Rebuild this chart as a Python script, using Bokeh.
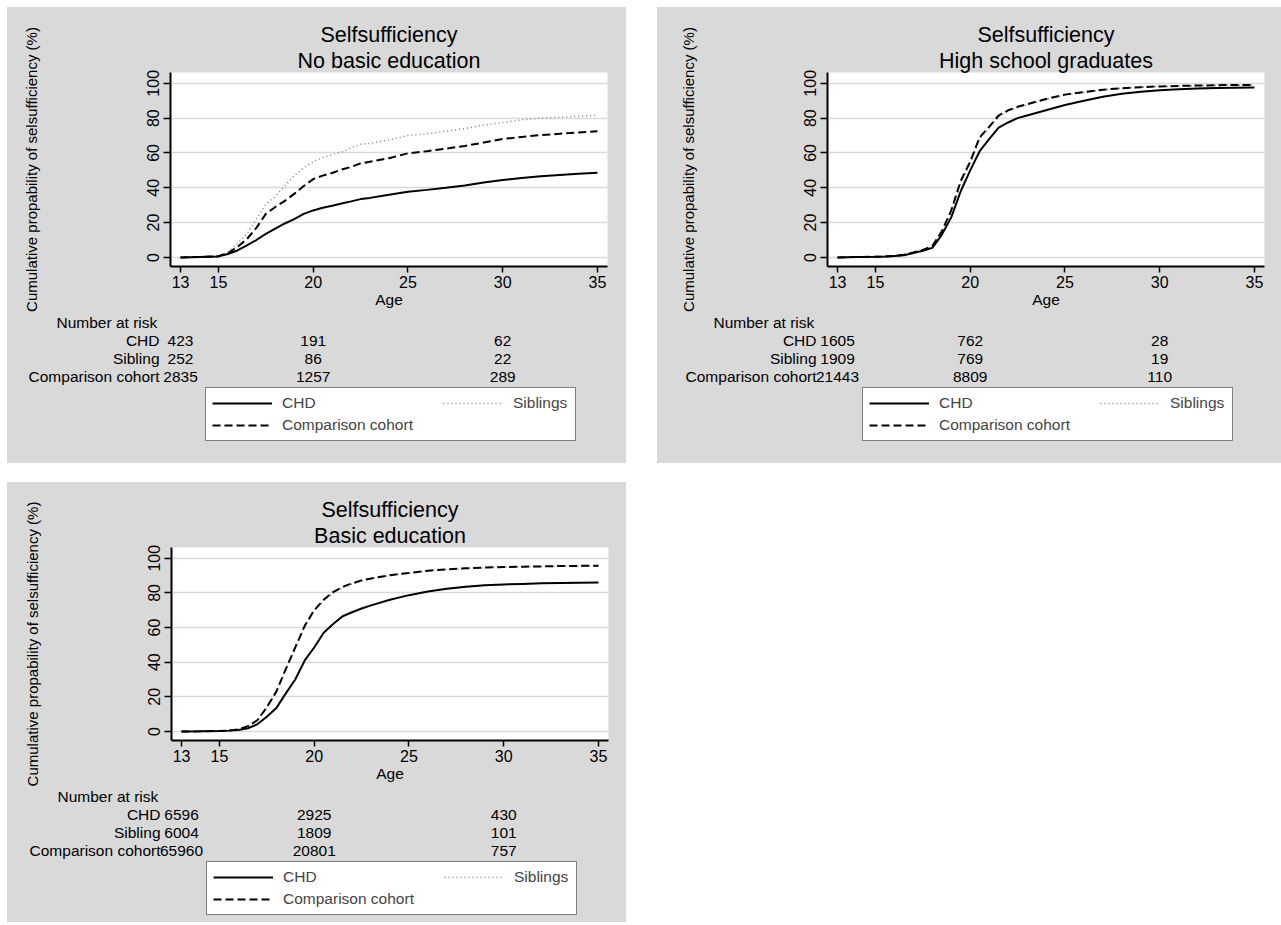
from bokeh.plotting import figure
from bokeh.models import FixedTicker, Range1d, Title, Label, Legend, LegendItem
from bokeh.layouts import row, column
from bokeh.embed import file_html
from bokeh.resources import INLINE

# ---------------- data ----------------
ages = [13, 14, 15, 15.5, 16, 16.5, 17, 17.5, 18, 18.5, 19, 19.5, 20, 20.5, 21, 21.5,
        22, 22.5, 23, 24, 25, 26, 27, 28, 29, 30, 31, 32, 33, 34, 35]

# No basic education
chd_nobasic = [0, 0.3, 0.6, 2, 4, 7, 10, 13.5, 16.5, 19.5, 22, 25, 27, 28.5, 29.7, 31,
               32.2, 33.5, 34.2, 36, 37.7, 38.8, 40, 41.3, 43, 44.5, 45.6, 46.6, 47.3, 48, 48.7]
sib_nobasic = [0, 0.3, 0.8, 3, 8, 13.5, 22, 30.5, 35, 41, 47, 51.5, 55, 57.3, 59, 60.5,
               63, 65, 65.5, 67.5, 70, 71, 72.5, 74, 76, 77.5, 79, 80, 80.5, 81, 81.7]
comp_nobasic = [0, 0.3, 0.7, 2.5, 6, 10.5, 17, 25, 29, 32.5, 36.5, 41, 45, 47, 48.5, 50.5,
                52, 54, 55, 57, 59.8, 61, 62.5, 64, 66, 68, 69.2, 70.3, 71, 71.8, 72.4]

# High school graduates
chd_high = [0, 0.3, 0.4, 0.5, 0.8, 1.3, 2.5, 3.8, 5.5, 13, 23, 38, 50, 61, 68, 74.5,
            77.5, 80, 81.5, 84.5, 87.5, 90, 92.3, 94, 95.2, 96, 96.6, 97, 97.3, 97.5, 97.6]
sib_high = [0, 0.3, 0.4, 0.5, 0.9, 1.4, 2.7, 4.2, 6.3, 14.5, 26, 43, 54, 68, 74.5, 81,
            84, 86, 87.7, 90.7, 93.3, 94.8, 96.2, 97.1, 97.7, 98.1, 98.4, 98.6, 98.8, 98.9, 99.0]
comp_high = [0, 0.3, 0.4, 0.5, 0.9, 1.5, 2.8, 4.3, 6.5, 15, 27, 44, 55, 69, 75, 81.5,
             84.5, 86.5, 88, 91, 93.5, 95, 96.3, 97.2, 97.8, 98.2, 98.5, 98.7, 98.9, 99, 99.1]

# Basic education
chd_basic = [0, 0.1, 0.3, 0.5, 0.9, 1.8, 4.2, 8.5, 13.5, 22, 30, 41, 48.5, 57, 62, 66.5,
             68.8, 71, 72.8, 76, 78.7, 80.8, 82.4, 83.6, 84.4, 84.9, 85.2, 85.5, 85.7, 85.9, 86]
sib_basic = [0, 0.1, 0.3, 0.6, 1.1, 2.9, 6.3, 13.5, 22.5, 35.5, 48, 60.5, 69.5, 75.5, 80, 83,
             85.2, 87, 88.1, 90, 91.4, 92.7, 93.5, 94.1, 94.5, 94.8, 95, 95.2, 95.4, 95.5, 95.6]
comp_basic = [0, 0.1, 0.3, 0.6, 1.2, 3, 6.5, 14, 23, 36, 48.5, 61, 70, 76, 80.5, 83.5,
              85.5, 87.2, 88.3, 90.2, 91.5, 92.8, 93.6, 94.2, 94.6, 94.9, 95.1, 95.3, 95.5, 95.6, 95.7]

# Number at risk
risk_times = [13, 20, 30]
risk_groups = ["CHD", "Sibling", "Comparison cohort"]
risk_nobasic = [[423, 191, 62], [252, 86, 22], [2835, 1257, 289]]
risk_high = [[1605, 762, 28], [1909, 769, 19], [21443, 8809, 110]]
risk_basic = [[6596, 2925, 430], [6004, 1809, 101], [65960, 20801, 757]]

x_ticks = [13, 15, 20, 25, 30, 35]
y_ticks = [0, 20, 40, 60, 80, 100]

# ---------------- style ----------------
FONT = "Liberation Sans"
PANEL_BG = "#d9d9d9"
FS = "15.5px"
X0, X1 = 12.47, 35.53
Y0, Y1 = -5.2, 106.2

SIB_STYLE = dict(line_color="#808080", line_width=1.5, line_dash="1 3")
COMP_STYLE = dict(line_color="black", line_width=2, line_dash="8 4")
CHD_STYLE = dict(line_color="black", line_width=2)

LEG_COMMON = dict(glyph_width=60, glyph_height=18, label_height=18,
                  label_standoff=10, padding=6, spacing=4, margin=0,
                  label_text_font=FONT, label_text_font_size=FS)


def make_panel(subtitle, chd, sib, comp, risk, width, height, b_left, frame_h):
    top, axis_h = 65, 46
    main_h = top + frame_h + axis_h
    b_right = width - b_left - 437
    p = figure(width=width, height=main_h, output_backend="svg", toolbar_location=None,
               title=None, x_range=Range1d(X0, X1), y_range=Range1d(Y0, Y1),
               min_border_left=b_left, min_border_right=b_right,
               min_border_top=top, min_border_bottom=axis_h)
    p.frame_align = False
    p.border_fill_color = PANEL_BG
    p.background_fill_color = "white"
    p.outline_line_color = None

    for txt in (subtitle, "Selfsufficiency"):
        p.add_layout(Title(text=txt, align="center", text_font_size="21.5px",
                           text_font_style="normal", text_font=FONT, text_color="black",
                           standoff=0), "above")

    p.xaxis.ticker = FixedTicker(ticks=x_ticks)
    p.yaxis.ticker = FixedTicker(ticks=y_ticks)
    p.xaxis.axis_label = "Age"
    p.yaxis.axis_label = "Cumulative propability of selsufficiency (%)"
    p.yaxis.major_label_orientation = "vertical"
    for ax in (p.xaxis, p.yaxis):
        ax.axis_line_color = "black"
        ax.axis_line_width = 2
        ax.major_tick_line_color = "black"
        ax.major_tick_line_width = 1.5
        ax.major_tick_in = 0
        ax.minor_tick_line_color = None
        ax.major_label_text_font = FONT
        ax.major_label_text_font_size = "16px"
        ax.major_label_text_color = "black"
        ax.axis_label_text_font = FONT
        ax.axis_label_text_font_size = FS
        ax.axis_label_text_font_style = "normal"
        ax.axis_label_text_color = "black"
    p.yaxis.axis_label_text_font_size = "15px"
    p.xaxis.major_tick_out = 6
    p.xaxis.major_label_standoff = 3
    p.xaxis.axis_label_standoff = 0
    p.yaxis.major_tick_out = 7
    p.yaxis.major_label_standoff = 4
    p.yaxis.axis_label_standoff = 105
    p.xgrid.grid_line_color = None
    p.ygrid.grid_line_color = PANEL_BG
    p.ygrid.grid_line_width = 1.5

    p.line(ages, sib, **SIB_STYLE)
    p.line(ages, comp, **COMP_STYLE)
    p.line(ages, chd, **CHD_STYLE)

    # ---- table + legend strip below the plot, same x scale ----
    tab_h = height - main_h
    ppu = 437 / (X1 - X0)
    t = figure(width=width, height=tab_h, output_backend="svg", toolbar_location=None,
               title=None, x_axis_location=None, y_axis_location=None,
               x_range=Range1d(X0 - b_left / ppu, X1 + b_right / ppu),
               y_range=Range1d(tab_h, 0),
               min_border_left=0, min_border_right=0, min_border_top=0, min_border_bottom=0)
    t.frame_align = False
    t.border_fill_color = PANEL_BG
    t.background_fill_color = PANEL_BG
    t.outline_line_color = None
    t.grid.visible = False

    off = axis_h  # distance from frame bottom to the top of the strip
    t.add_layout(Label(x=b_left - 114, y=56 - off, x_units="screen", y_units="data",
                       text="Number at risk", text_align="left", text_baseline="middle",
                       text_font=FONT, text_font_size=FS, text_color="black"))
    for i, grp in enumerate(risk_groups):
        yy = 74 + 18 * i - off
        t.add_layout(Label(x=b_left - 11, y=yy, x_units="screen", y_units="data",
                           text=grp, text_align="right", text_baseline="middle",
                           text_font=FONT, text_font_size=FS, text_color="black"))
        for tt, n in zip(risk_times, risk[i]):
            t.add_layout(Label(x=tt, y=yy, x_units="data", y_units="data",
                               text=str(n), text_align="center", text_baseline="middle",
                               text_font=FONT, text_font_size=FS, text_color="black"))

    # legend keys: the same series, kept hidden in this strip
    r_chd = t.line(ages, chd, visible=False, **CHD_STYLE)
    r_comp = t.line(ages, comp, visible=False, **COMP_STYLE)
    r_sib = t.line(ages, sib, visible=False, **SIB_STYLE)
    leg_bottom = tab_h - (175 - off)
    leg_a = Legend(items=[LegendItem(label="CHD", renderers=[r_chd]),
                          LegendItem(label="Comparison cohort", renderers=[r_comp])],
                   location=(b_left + 35, leg_bottom), label_width=287,
                   border_line_color="black", border_line_width=1.5,
                   background_fill_color="white", background_fill_alpha=1, **LEG_COMMON)
    leg_b = Legend(items=[LegendItem(label="Siblings", renderers=[r_sib])],
                   location=(b_left + 35 + 238, leg_bottom + 29),
                   border_line_color=None, background_fill_alpha=0, **LEG_COMMON)
    t.add_layout(leg_a, "center")
    t.add_layout(leg_b, "center")
    return column(p, t, spacing=0, styles={"background-color": PANEL_BG})


p1 = make_panel("No basic education", chd_nobasic, sib_nobasic, comp_nobasic, risk_nobasic,
                619, 456, 163, 194)
p2 = make_panel("High school graduates", chd_high, sib_high, comp_high, risk_high,
                624, 456, 170, 194)
p3 = make_panel("Basic education", chd_basic, sib_basic, comp_basic, risk_basic,
                619, 440, 164, 193)

layout = column(row(p1, p2, spacing=31), p3, spacing=19, margin=(7, 0, 0, 7))

open("out.html", "w").write(file_html(layout, INLINE))
